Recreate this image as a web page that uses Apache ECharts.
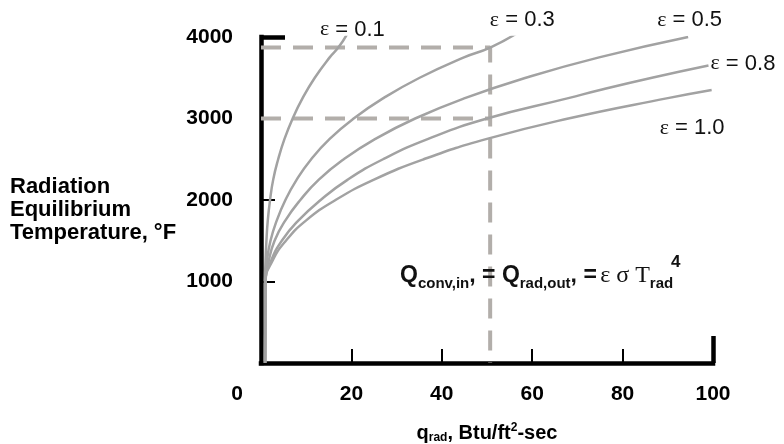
<!DOCTYPE html>
<html>
<head>
<meta charset="utf-8">
<script src="https://cdn.jsdelivr.net/npm/echarts@6/dist/echarts.min.js"></script>
<style>
  html, body { margin: 0; padding: 0; background: #fff; }
  #chart { width: 784px; height: 444px; }
</style>
</head>
<body>
<div id="chart"></div>
<script>
// [q_rad (Btu/ft2-sec), temperature (F)]
const eps01 = [[0.9,0],[0.9,1000],[1.0,1250],[1.2,1500],[1.5,1750],[2.0,2000],[2.7,2250],[3.8,2500],[5.2,2750],[7.0,3000],[9.2,3250],[11.9,3500],[15.2,3750],[17.1,3870],[19.0,4030]];
const eps03 = [[0.9,0],[0.9,1000],[1.3,1250],[2.1,1500],[3.5,1750],[5.4,2000],[7.9,2250],[11.1,2500],[15.2,2750],[20.5,3000],[27.1,3250],[35.1,3500],[44.9,3750],[50.7,3870],[56.6,4045]];
const eps05 = [[0.9,0],[1.0,1000],[1.7,1250],[3.0,1500],[5.4,1750],[8.7,2000],[12.8,2250],[18.3,2500],[25.3,2750],[34.1,3000],[45.1,3250],[58.6,3500],[74.8,3750],[94.5,4000]];
const eps08 = [[0.9,0],[1.0,1000],[2.2,1250],[4.6,1500],[8.3,1750],[13.2,2000],[19.2,2250],[27,2500],[37,2750],[50,3000],[68,3250],[75,3350],[86.5,3500],[99,3650]];
const eps10 = [[0.9,0],[1.0,1000],[2.5,1250],[5.5,1500],[10,1750],[16.5,2000],[25,2250],[36,2500],[50,2750],[68,3000],[90,3250],[99.7,3350]];
const curveNames = ['0.1', '0.3', '0.5', '0.8', '1.0'];
const curves = [eps01, eps03, eps05, eps08, eps10];
// dashed guide lines
const guideUpper = [[0,3870],[50.7,3870],[50.7,0]];
const guideMid = [[0,3000],[50.7,3000]];
const xTicks = [20, 40, 60, 80];
const yTicks = [1000, 2000];
const yLabels = [1000, 2000, 3000, 4000];

// where each epsilon label sits relative to its curve end
const labelOffsets = [[-27,-5], [-27,-13], [-31,-17], [2,-2], [-52,38]];

const SANS = 'Liberation Sans, Arial, sans-serif';
const SERIF = 'Liberation Serif, Times New Roman, serif';
const CURVE = '#a2a2a2';
const GUIDE = '#b2aeaa';

const chart = echarts.init(document.getElementById('chart'));

const curveSeries = curves.map((d, i) => ({
  type: 'line',
  data: d,
  showSymbol: false,
  smooth: 0.5,
  z: 3,
  lineStyle: { color: CURVE, width: 2.5 },
  endLabel: {
    show: true,
    distance: 0,
    offset: labelOffsets[i],
    formatter: '{e|ε} = ' + curveNames[i],
    color: '#111',
    fontFamily: SANS,
    fontSize: 22,
    rich: { e: { fontFamily: SERIF, fontSize: 22, color: '#111' } }
  }
}));

const guideSeries = [guideUpper, guideMid].map(d => ({
  type: 'line',
  data: d,
  showSymbol: false,
  z: 2,
  lineStyle: { color: GUIDE, width: 4, type: [20, 12] }
}));

chart.setOption({
  animation: false,
  backgroundColor: '#fff',
  grid: { left: 261, right: 71, top: 37, bottom: 81, outerBoundsMode: 'none' },
  xAxis: [{
    type: 'value', min: 0, max: 100, interval: 20,
    axisLine: { lineStyle: { color: '#000', width: 4.5, cap: 'square' } },
    axisTick: { inside: true, length: 14, customValues: xTicks, lineStyle: { color: '#000', width: 2 } },
    splitLine: { show: false },
    axisLabel: {
      margin: 21, color: '#000', fontFamily: SANS, fontWeight: 'bold', fontSize: 21,
      formatter: v => v === 0 ? '{z|0}' : String(v),
      rich: { z: { padding: [0, 48, 0, 0], fontFamily: SANS, fontWeight: 'bold', fontSize: 21, color: '#000' } }
    },
    name: '{q|q}{s|rad}{q|, Btu/ft}{p|2}{q|-sec}',
    nameLocation: 'middle',
    nameGap: 57,
    nameTextStyle: {
      rich: {
        q: { fontFamily: SANS, fontWeight: 'bold', fontSize: 20, color: '#000', lineHeight: 26, verticalAlign: 'middle' },
        s: { fontFamily: SANS, fontWeight: 'bold', fontSize: 12, color: '#000', lineHeight: 26, verticalAlign: 'bottom', padding: [0, 0, 2, 0] },
        p: { fontFamily: SANS, fontWeight: 'bold', fontSize: 12, color: '#000', lineHeight: 26, verticalAlign: 'top', padding: [2, 0, 0, 0] }
      }
    }
  }, {
    // thick cap at the right end of the x axis
    type: 'value', min: 0, max: 100, position: 'bottom',
    axisLine: { show: false },
    axisLabel: { show: false },
    splitLine: { show: false },
    axisTick: { inside: true, length: 27, customValues: [100], lineStyle: { color: '#000', width: 4.5 } }
  }],
  yAxis: [{
    type: 'value', min: 0, max: 4000, interval: 1000,
    axisLine: { show: true, lineStyle: { color: '#000', width: 4.5, cap: 'square' } },
    axisTick: { show: true, inside: true, length: 14, customValues: yTicks, lineStyle: { color: '#000', width: 2 } },
    splitLine: { show: false },
    axisLabel: {
      margin: 28, color: '#000', fontFamily: SANS, fontWeight: 'bold', fontSize: 21,
      customValues: yLabels,
      formatter: v => String(v),
      padding: [6, 0, 0, 0]
    }
  }, {
    // thick cap at the top of the y axis
    type: 'value', min: 0, max: 4000, position: 'left',
    axisLine: { show: false },
    axisLabel: { show: false },
    splitLine: { show: false },
    axisTick: { show: true, inside: true, length: 24, customValues: [4000], lineStyle: { color: '#000', width: 4.5 } }
  }],
  series: guideSeries.concat(curveSeries),
  graphic: [{
    type: 'text', left: 10, top: 175,
    style: {
      text: 'Radiation\nEquilibrium\nTemperature, °F',
      fontFamily: SANS, fontWeight: 'bold', fontSize: 22, lineHeight: 23, fill: '#000'
    }
  }, {
    type: 'text', left: 400, top: 264, z: 10,
    style: {
      text: '{b|Q}{s|conv,in}{b|, = Q}{s|rad,out}{b|, =} {g|ε σ T}{s|rad}',
      rich: {
        b: { fontFamily: SANS, fontWeight: 'bold', fontSize: 23, lineHeight: 30, verticalAlign: 'middle', fill: '#111' },
        s: { fontFamily: SANS, fontWeight: 'bold', fontSize: 15, lineHeight: 30, verticalAlign: 'bottom', fill: '#111' },
        g: { fontFamily: SERIF, fontSize: 24, lineHeight: 30, verticalAlign: 'middle', fill: '#111' }
      }
    }
  }, {
    type: 'text', left: 671, top: 254, z: 10,
    style: { text: '4', fontFamily: SANS, fontWeight: 'bold', fontSize: 17, fill: '#111' }
  }]
});
</script>
</body>
</html>
